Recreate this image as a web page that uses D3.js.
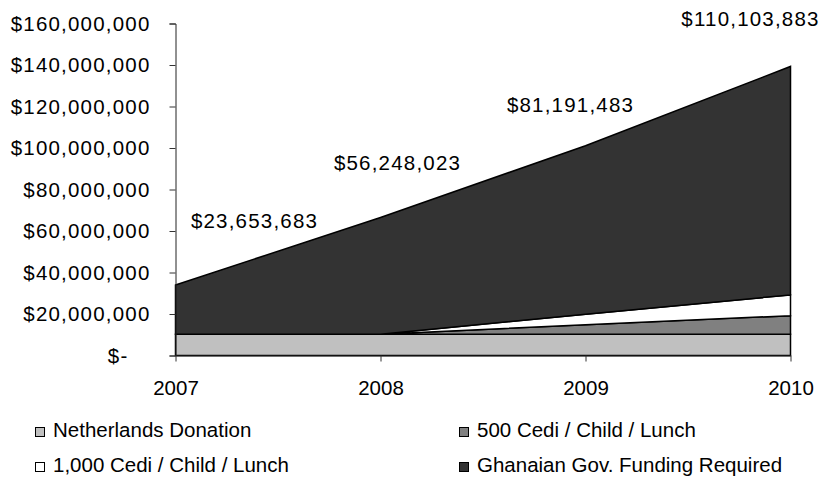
<!DOCTYPE html>
<html>
<head>
<meta charset="utf-8">
<script src="https://cdn.jsdelivr.net/npm/d3@7"></script>
<style>
  html, body { margin: 0; padding: 0; background: #fff; }
  svg { display: block; font-family: "Liberation Sans", Arial, sans-serif; }
</style>
</head>
<body>
<svg id="chart" width="823" height="477"></svg>
<script>
// ---- data ----
const years = ["2007", "2008", "2009", "2010"];
const netherlands = [10300000, 10300000, 10300000, 10300000];
const cedi500 = [0, 0, 4500000, 8900000];
const cedi1000 = [0, 0, 5100000, 10000000];
const ghana = [23653683, 56248023, 81191483, 110103883];
const seriesNames = ["Netherlands Donation", "500 Cedi / Child / Lunch", "1,000 Cedi / Child / Lunch", "Ghanaian Gov. Funding Required"];
const yTicks = [0, 20000000, 40000000, 60000000, 80000000, 100000000, 120000000, 140000000, 160000000];

// ---- layout ----
const colors = ["#c0c0c0", "#808080", "#ffffff", "#333333"];
const keys = ["netherlands", "cedi500", "cedi1000", "ghana"];
const plotLeft = 175.5, plotRight = 790.5, plotTop = 23.5, plotBottom = 355.5;
const labelDx = [79, 17, -15, -40];
const labelDy = [57, 47, 34, 40];
const fontSize = 20.5;
const moneySpacing = 1.2;

const rows = years.map((yr, i) => ({
  year: yr,
  netherlands: netherlands[i],
  cedi500: cedi500[i],
  cedi1000: cedi1000[i],
  ghana: ghana[i]
}));

const svg = d3.select("#chart");
const x = d3.scalePoint().domain(years).range([plotLeft, plotRight]);
const y = d3.scaleLinear().domain([0, 160000000]).range([plotBottom, plotTop]);

const stacked = d3.stack().keys(keys)(rows);
const area = d3.area()
  .x(d => x(d.data.year))
  .y0(d => y(d[0]))
  .y1(d => y(d[1]));

svg.append("g").selectAll("path")
  .data(stacked)
  .join("path")
  .attr("d", area)
  .attr("fill", (d, i) => colors[i])
  .attr("stroke", "#000")
  .attr("stroke-width", 1.5)
  .attr("stroke-linejoin", "miter");

// y axis
const fmt = d3.format(",");
const yAxis = d3.axisLeft(y)
  .tickValues(yTicks)
  .tickSize(6)
  .tickPadding(19)
  .tickFormat(d => d === 0 ? "$-" : "$" + fmt(d));
const gy = svg.append("g").attr("transform", `translate(${plotLeft},0)`).call(yAxis);
gy.selectAll("text").attr("font-size", fontSize).attr("font-family", "Liberation Sans, Arial, sans-serif").attr("fill", "#000")
  .attr("letter-spacing", moneySpacing)
  .attr("dx", d => d === 0 ? -22 : 0);
gy.select(".domain").attr("stroke", "#222");
gy.selectAll(".tick line").attr("stroke", "#333");

// x axis
const xAxis = d3.axisBottom(x).tickSize(6).tickPadding(19).tickSizeOuter(0);
const gx = svg.append("g").attr("transform", `translate(0,${plotBottom})`).call(xAxis);
gx.selectAll("text").attr("font-size", fontSize).attr("font-family", "Liberation Sans, Arial, sans-serif").attr("fill", "#000");
gx.select(".domain").attr("stroke", "#222");
gx.selectAll(".tick line").attr("stroke", "#333");

// data labels (Ghanaian funding)
const topStack = stacked[stacked.length - 1];
svg.append("g").selectAll("text")
  .data(topStack)
  .join("text")
  .attr("x", (d, i) => x(d.data.year) + labelDx[i])
  .attr("y", (d, i) => y(d[1]) - labelDy[i])
  .attr("text-anchor", "middle")
  .attr("font-size", fontSize)
  .attr("letter-spacing", moneySpacing)
  .attr("fill", "#000")
  .text((d, i) => "$" + fmt(ghana[i]));

// legend
const legendPos = [
  { bx: 35, by: 427 },
  { bx: 459, by: 427 },
  { bx: 35, by: 462 },
  { bx: 459, by: 462 }
];
const lg = svg.append("g").selectAll("g")
  .data(seriesNames)
  .join("g")
  .attr("transform", (d, i) => `translate(${legendPos[i].bx},${legendPos[i].by})`);
lg.append("rect")
  .attr("x", 0.5).attr("y", 0.5)
  .attr("width", 9).attr("height", 9)
  .attr("fill", (d, i) => colors[i])
  .attr("stroke", "#000").attr("stroke-width", 1);
lg.append("text")
  .attr("x", 18).attr("y", 9.7)
  .attr("font-size", fontSize)
  .attr("fill", "#000")
  .text(d => d);
</script>
</body>
</html>
